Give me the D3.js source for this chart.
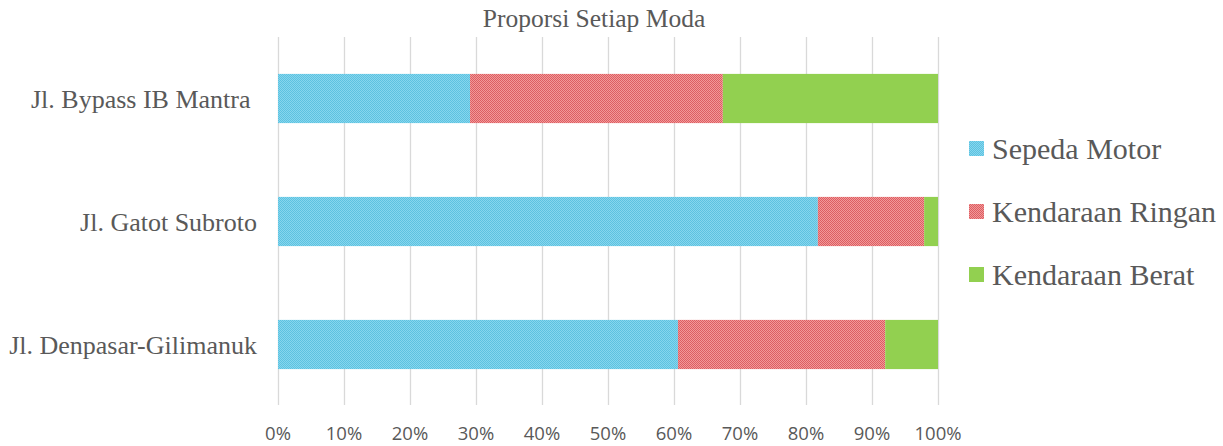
<!DOCTYPE html>
<html><head><meta charset="utf-8">
<script src="https://cdn.jsdelivr.net/npm/d3@7"></script>
<style>
html,body{margin:0;padding:0;background:#fff;overflow:hidden}
.serif{font-family:"Liberation Serif","Tinos","Times New Roman","DejaVu Serif",serif}
.sans{font-family:"Open Sans","Liberation Sans",sans-serif}
</style>
</head><body>
<svg id="c" width="1223" height="446"></svg>
<script>
const title = "Proporsi Setiap Moda";
const categories = ["Jl. Bypass IB Mantra ", "Jl. Gatot Subroto", "Jl. Denpasar-Gilimanuk"];
const seriesNames = ["Sepeda Motor", "Kendaraan Ringan", "Kendaraan Berat"];
const sepedaMotor = [29.1, 81.8, 60.6];
const kendaraanRingan = [38.3, 16.1, 31.4];
const kendaraanBerat = [32.6, 2.1, 8.0];
const tickValues = [0, 10, 20, 30, 40, 50, 60, 70, 80, 90, 100];

const svg = d3.select("#c");
const defs = svg.append("defs");
function checker(id, c1, c2) {
  const p = defs.append("pattern").attr("id", id).attr("width", 2).attr("height", 2)
    .attr("patternUnits", "userSpaceOnUse");
  p.append("rect").attr("width", 2).attr("height", 2).attr("fill", c1);
  p.append("rect").attr("width", 1).attr("height", 1).attr("fill", c2);
  p.append("rect").attr("x", 1).attr("y", 1).attr("width", 1).attr("height", 1).attr("fill", c2);
}
checker("pBlue", "#86D6EE", "#5DC2E0");
checker("pRed", "#F39898", "#DB5E63");
const fills = ["url(#pBlue)", "url(#pRed)", "#92D050"];

const x = d3.scaleLinear().domain([0, 100]).range([278, 938]);
const y = d3.scaleBand().domain(categories).range([37, 406]).paddingInner(0.6).paddingOuter(0.3);

// gridlines
svg.append("g").selectAll("line").data(tickValues).join("line")
  .attr("x1", d => x(d) + 0.5).attr("x2", d => x(d) + 0.5)
  .attr("y1", 37).attr("y2", 405)
  .attr("stroke", "#D9D9D9").attr("stroke-width", 1.3);

// stacked bars
const rows = categories.map((c, i) => ({cat: c, v: [sepedaMotor[i], kendaraanRingan[i], kendaraanBerat[i]]}));
const keys = [0, 1, 2];
const stack = d3.stack().keys(keys).value((d, k) => d.v[k]);
const stacked = stack(rows);
svg.append("g").selectAll("g").data(stacked).join("g")
  .attr("fill", (d, i) => fills[i])
  .selectAll("rect").data(d => d).join("rect")
  .attr("x", d => x(d[0])).attr("width", d => x(Math.min(d[1], 100)) - x(d[0]))
  .attr("y", d => y(d.data.cat)).attr("height", y.bandwidth());

// x axis labels
svg.append("g").selectAll("text").data(tickValues).join("text")
  .attr("class", "sans")
  .attr("x", d => x(d)).attr("y", 440)
  .attr("text-anchor", "middle")
  .style("font-size", "18.5px")
  .attr("fill", "#595959")
  .text(d => d + "%");

// category labels
svg.append("g").selectAll("text").data(categories).join("text")
  .attr("class", "serif")
  .attr("x", 257).attr("y", d => y(d) + y.bandwidth() / 2 + 9)
  .attr("text-anchor", "end")
  .style("white-space", "pre")
  .style("font-size", "26px")
  .attr("fill", "#595959")
  .text(d => d);

// title
svg.append("text").attr("class", "serif").attr("x", 594).attr("y", 27)
  .attr("text-anchor", "middle")
  .style("font-size", "25.5px")
  .attr("fill", "#595959").text(title);

// legend
const lg = svg.append("g").selectAll("g").data(seriesNames).join("g")
  .attr("transform", (d, i) => `translate(969, ${148 + i * 63})`);
lg.append("rect").attr("x", 0).attr("y", -7).attr("width", 15).attr("height", 15)
  .attr("fill", (d, i) => fills[i]);
lg.append("text").attr("class", "serif").attr("x", 23).attr("y", 10.5)
  .style("font-size", "30px")
  .attr("fill", "#595959").text(d => d);
</script>
</body></html>
